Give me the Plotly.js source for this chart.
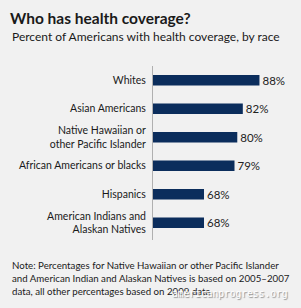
<!DOCTYPE html>
<html>
<head>
<meta charset="utf-8">
<script src="https://cdn.plot.ly/plotly-3.0.1.min.js"></script>
<style>html,body{margin:0;padding:0;background:#f1f1f1;}</style>
</head>
<body>
<div id="chart" style="width:301px;height:308px;"></div>
<script>
var categories = ["Whites", "Asian Americans", "Native Hawaiian or other Pacific Islander", "African Americans or blacks", "Hispanics", "American Indians and Alaskan Natives"];
var tickLabels = ["Whites", "Asian Americans", "Native Hawaiian or<br>other Pacific Islander", "African Americans or blacks", "Hispanics", "American Indians and<br>Alaskan Natives"];
var values = [88, 82, 80, 79, 68, 68];
var titleText = "Who has health coverage?";
var subtitleText = "Percent of Americans with health coverage, by race";
var noteLines = [
  "Note: Percentages for Native Hawaiian or other Pacific Islander",
  "and American Indian and Alaskan Natives is based on 2005\u20132007",
  "data, all other percentages based on 2009 data."
];
var watermark = "americanprogress.org";

var FONT = "Lato, 'Open Sans', sans-serif";
var W = 301, H = 308;
var plotTop = 66, plotBottom = 240, plotLeft = 153, plotRight = 293;
function py(px) { return (plotBottom - px) / (plotBottom - plotTop); }
function pxx(px) { return (px - plotLeft) / (plotRight - plotLeft); }

var trace = {
  type: "bar",
  orientation: "h",
  y: categories,
  x: values,
  width: 0.37,
  marker: {color: "#0b2d5c"},
  text: values.map(function(v){ return v + "%"; }),
  textposition: "outside",
  constraintext: "none",
  textfont: {family: FONT, size: 11.5, color: "#222"},
  cliponaxis: false,
  hoverinfo: "none"
};

var annotations = [
  {text: subtitleText, xref: "paper", yref: "paper", x: pxx(10), y: py(37), xanchor: "left", yanchor: "middle", showarrow: false, align: "left", font: {family: FONT, size: 12, color: "#1a1a1a"}}
];
var noteCenters = [265, 278, 291];
noteLines.forEach(function(line, i){
  annotations.push({text: line, xref: "paper", yref: "paper", x: pxx(10), y: py(noteCenters[i]), xanchor: "left", yanchor: "middle", showarrow: false, align: "left", font: {family: FONT, size: 9.7, color: "#1a1a1a"}});
});
annotations.push({text: watermark, xref: "paper", yref: "paper", x: pxx(290), y: py(293), xanchor: "right", yanchor: "middle", showarrow: false, align: "right", font: {family: "'DejaVu Sans Mono', monospace", size: 9.6, color: "#ffffff", shadow: "1px 1px 1px #888"}});

var layout = {
  width: W, height: H,
  paper_bgcolor: "#f1f1f1",
  plot_bgcolor: "#f1f1f1",
  margin: {l: plotLeft, r: W - plotRight, t: plotTop, b: H - plotBottom, pad: 0},
  showlegend: false,
  font: {family: FONT, color: "#222"},
  title: {
    text: "<b>" + titleText + "</b>",
    font: {family: FONT, size: 15.5, color: "#1a1a1a"},
    xref: "container", yref: "container",
    x: 10 / W, xanchor: "left",
    y: 1 - 19 / H, yanchor: "middle",
    pad: {t: 0, l: 0, r: 0, b: 0}
  },
  xaxis: {
    range: [49.6, 100.1],
    showgrid: false, zeroline: false, showline: false,
    showticklabels: false, ticks: "", fixedrange: true
  },
  yaxis: {
    type: "category",
    categoryorder: "array",
    categoryarray: categories,
    range: [5.605, -0.5],
    tickmode: "array",
    tickvals: categories,
    ticktext: tickLabels,
    ticks: "",
    ticklabelstandoff: 4,
    showline: true, linecolor: "#b0b0b0", linewidth: 1,
    showgrid: false, zeroline: false,
    tickfont: {family: FONT, size: 10.5, color: "#1a1a1a"},
    fixedrange: true
  },
  annotations: annotations
};

Plotly.newPlot("chart", [trace], layout, {displayModeBar: false, staticPlot: true});
</script>
</body>
</html>
